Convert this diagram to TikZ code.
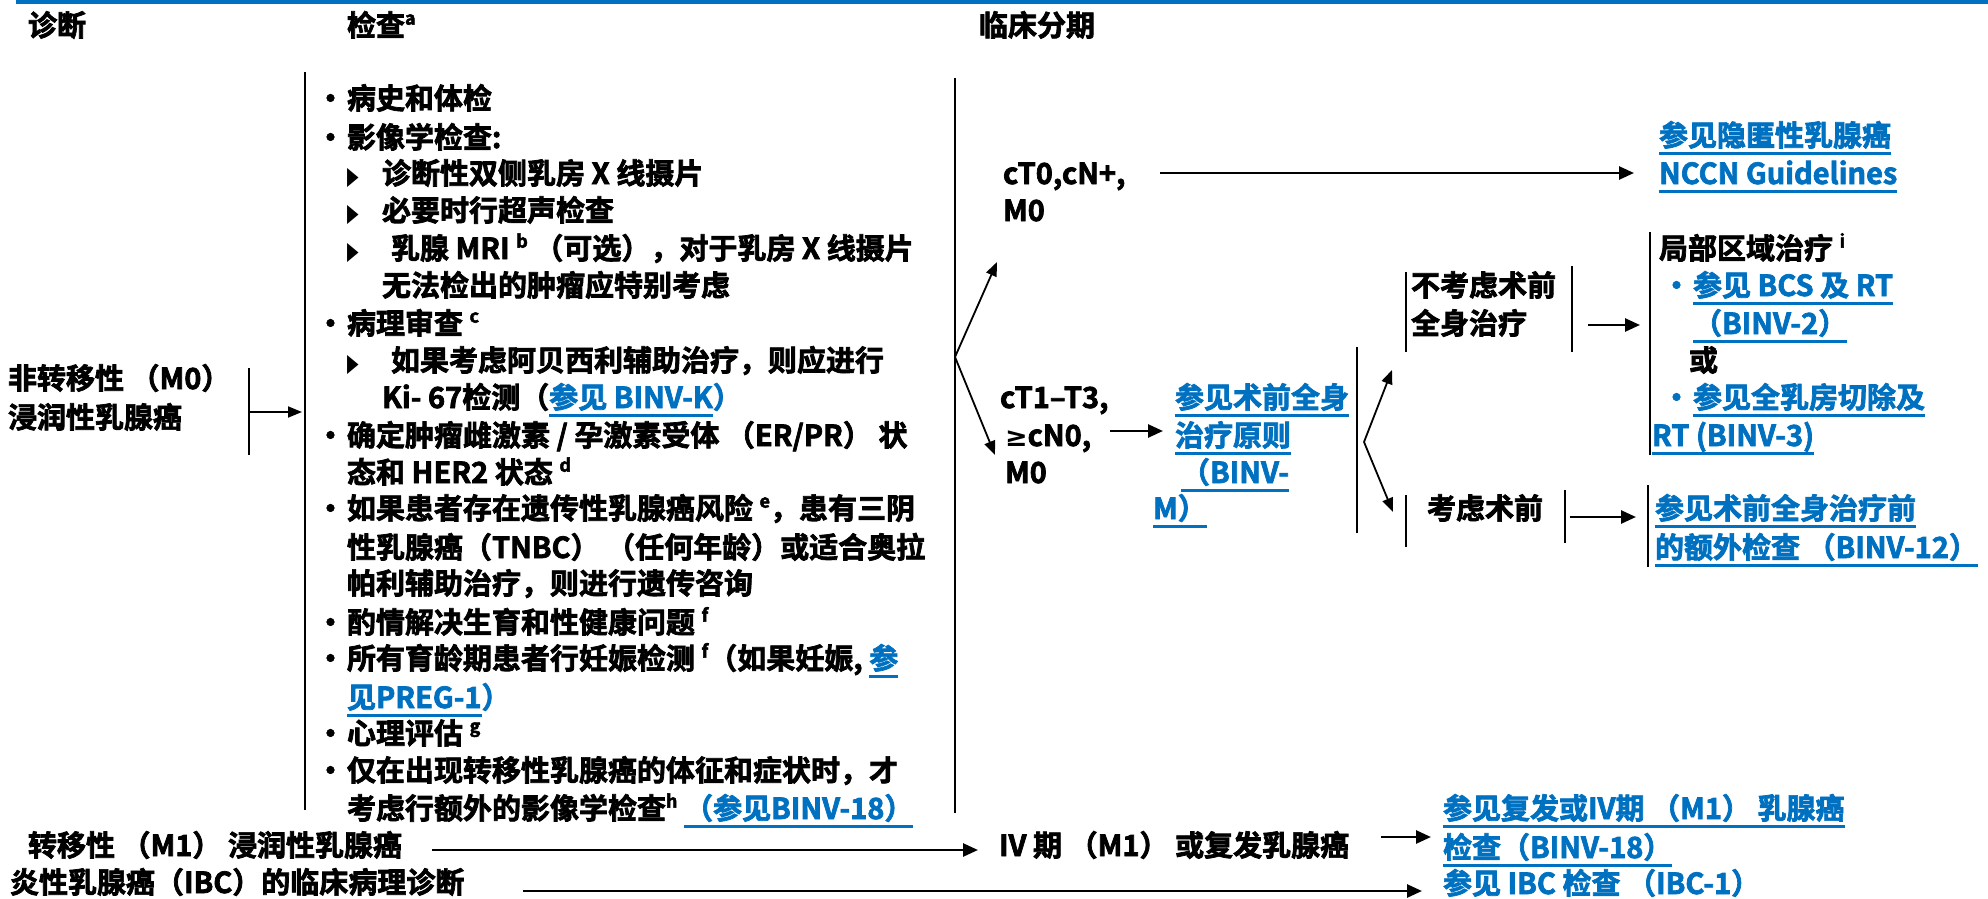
\documentclass[tikz,border=0pt]{standalone}
\usepackage{fontspec}
\usetikzlibrary{arrows.meta}
\newfontfamily\cjkb{Noto Sans CJK SC}[UprightFont={* Bold},FakeBold=2.5]
\newfontfamily\dvs{DejaVu Sans}[UprightFont={* Bold}]
\definecolor{nblue}{HTML}{0070C0}
\newcommand\bodyfont{\cjkb\fontsize{29bp}{34bp}\selectfont}
\newcommand\sups[1]{\raisebox{0.72ex}{\fontsize{18bp}{18bp}\selectfont #1}}
\newcommand\lk[1]{\setbox0\hbox{\color{nblue}#1}\rlap{\color{nblue}\rule[-8.5bp]{\wd0}{2.6bp}}\box0}
\newcommand\tri{\raisebox{0bp}{\scalebox{0.6}[1.0]{\dvs\fontsize{25bp}{25bp}\selectfont ▶}}}
\newcommand\bul{\makebox[31bp][l]{•}}
\newcommand\mygeq{{\dvs\fontsize{27bp}{27bp}\selectfont ≥}}
\begin{document}
\begin{tikzpicture}[x=1bp,y=-1bp,
  tx/.style={anchor=base west, inner sep=0pt, outer sep=0pt, font=\bodyfont},
  arr/.style={line width=2.6bp, -{Triangle[length=15bp,width=13bp]}},
  thinarr/.style={line width=1.8bp, -{Triangle[length=14bp,width=11bp]}},
  bar/.style={line width=2bp}]
\useasboundingbox (0,0) rectangle (1988,899);
% top rule
\draw[nblue, line width=3.5bp] (16,2) -- (1988,2);
% headers
\node[tx] (h1) at (28,36) {诊断};
\node[tx] (h2) at (347,36) {检查\sups{a}};
\node[tx] (h3) at (979,36) {临床分期};
% exam box bars
\draw[bar] (305,72) -- (305,810);
\draw[bar] (955,78) -- (955,813);
% exam list
\node[tx] (e1) at (316,109) {\bul 病史和体检};
\node[tx] (e2) at (316,148) {\bul 影像学检查:};
\node[tx] (e3) at (347,184) {\makebox[35bp][l]{\tri}诊断性双侧乳房 X 线摄片};
\node[tx] (e4) at (347,221) {\makebox[35bp][l]{\tri}必要时行超声检查};
\node[tx] (e5) at (347,259) {\makebox[44bp][l]{\tri}乳腺 MRI \sups{b} （可选），对于乳房 X 线摄片};
\node[tx] (e6) at (382,296) {无法检出的肿瘤应特别考虑};
\node[tx] (e7) at (316,334) {\bul 病理审查 \sups{c}};
\node[tx] (e8) at (347,371) {\makebox[44bp][l]{\tri}如果考虑阿贝西利辅助治疗，则应进行};
\node[tx] (e9) at (382,408) {Ki- 67检测（\lk{参见 BINV-K}）};
\node[tx] (e10) at (316,446) {\bul 确定肿瘤雌激素 / 孕激素受体 （ER/PR） 状};
\node[tx] (e11) at (347,483) {态和 HER2 状态 \sups{d}};
\node[tx] (e12) at (316,519) {\bul 如果患者存在遗传性乳腺癌风险 \sups{e}，患有三阴};
\node[tx] (e13) at (347,558) {性乳腺癌（TNBC） （任何年龄）或适合奥拉};
\node[tx] (e14) at (347,594) {帕利辅助治疗，则进行遗传咨询};
\node[tx] (e15) at (316,633) {\bul 酌情解决生育和性健康问题 \sups{f}};
\node[tx] (e16) at (316,669) {\bul 所有育龄期患者行妊娠检测 \sups{f}（如果妊娠, \lk{参}};
\node[tx] (e17) at (347,708) {\lk{见PREG-1}）};
\node[tx] (e18) at (316,744) {\bul 心理评估 \sups{g}};
\node[tx] (e19) at (316,781) {\bul 仅在出现转移性乳腺癌的体征和症状时，才};
\node[tx] (e20) at (347,819) {考虑行额外的影像学检查\sups{h} \lk{（参见BINV-18）}};
% diagnosis column
\node[tx] (d1) at (8,389) {非转移性 （M0）};
\node[tx] (d2) at (8,428) {浸润性乳腺癌};
\draw[bar] (249,368) -- (249,455);
\coordinate (d0a) at (249,412);
\coordinate (d0b) at (302,412);
\draw[thinarr] (d0a) -- (d0b);
\node[tx] (m1) at (28,856) {转移性 （M1） 浸润性乳腺癌};
\node[tx] (ibc) at (10,893) {炎性乳腺癌（IBC）的临床病理诊断};
% clinical stage
\coordinate (bv) at (955,357);
\coordinate (bu) at (997,262);
\coordinate (bd) at (995,455);
\draw[thinarr] (bv) -- (bu);
\draw[thinarr] (bv) -- (bd);
\node[tx] (c0a) at (1003,184) {cT0,cN+,};
\node[tx] (c0b) at (1003,221) {M0};
\coordinate (a1s) at (1160,173);
\coordinate (a1e) at (1634,173);
\draw[arr] (a1s) -- (a1e);
\node[tx] (occ1) at (1659,146) {\lk{参见隐匿性乳腺癌}};
\node[tx] (occ2) at (1659,184) {\lk{NCCN Guidelines}};
\node[tx] (c1a) at (1000,408) {cT1–T3,};
\node[tx] (c1b) at (1005,446) {\mygeq cN0,};
\node[tx] (c1c) at (1005,483) {M0};
\coordinate (a2s) at (1110,431);
\coordinate (a2e) at (1163,431);
\draw[arr] (a2s) -- (a2e);
\node[tx] (p1) at (1175,408) {\lk{参见术前全身}};
\node[tx] (p2) at (1175,446) {\lk{治疗原则}};
\node[tx] (p3) at (1181,483) {\lk{（BINV-}};
\node[tx] (p4) at (1153,519) {\lk{M）}};
\draw[bar] (1357,347) -- (1357,533);
\coordinate (cv) at (1364,442);
\coordinate (cu) at (1392,370);
\coordinate (cd) at (1393,512);
\draw[thinarr] (cv) -- (cu);
\draw[thinarr] (cv) -- (cd);
\node[tx] (n1) at (1411,296) {不考虑术前};
\node[tx] (n2) at (1411,334) {全身治疗};
\draw[bar] (1406,272) -- (1406,352);
\draw[bar] (1572,266) -- (1572,352);
\coordinate (a3s) at (1588,325);
\coordinate (a3e) at (1640,325);
\draw[arr] (a3s) -- (a3e);
\draw[bar] (1650,232) -- (1650,455);
\node[tx] (l1) at (1659,259) {局部区域治疗 \sups{i}};
\node[tx] (l2) at (1662,296) {\color{nblue}\bul\lk{参见 BCS 及 RT}};
\node[tx] (l3) at (1693,334) {\lk{（BINV-2）}};
\node[tx] (l4) at (1689,371) {或};
\node[tx] (l5) at (1662,408) {\color{nblue}\bul\lk{参见全乳房切除及}};
\node[tx] (l6) at (1652,446) {\lk{RT (BINV-3)}};
\node[tx] (k1) at (1427,519) {考虑术前};
\draw[bar] (1406,495) -- (1406,547);
\draw[bar] (1565,490) -- (1565,543);
\coordinate (a4s) at (1570,517);
\coordinate (a4e) at (1636,517);
\draw[arr] (a4s) -- (a4e);
\draw[bar] (1648,485) -- (1648,567);
\node[tx] (w1) at (1655,519) {\lk{参见术前全身治疗前}};
\node[tx] (w2) at (1655,558) {\lk{的额外检查 （BINV-12）}};
% metastatic
\node[tx] (iv) at (999,856) {IV 期 （M1） 或复发乳腺癌};
\coordinate (a5s) at (432,850);
\coordinate (a5e) at (978,850);
\draw[arr] (a5s) -- (a5e);
\coordinate (a6s) at (1381,837);
\coordinate (a6e) at (1431,837);
\draw[arr] (a6s) -- (a6e);
\node[tx] (r1) at (1443,819) {\lk{参见复发或IV期 （M1） 乳腺癌}};
\node[tx] (r2) at (1443,858) {\lk{检查（BINV-18）}};
\node[tx] (r3) at (1443,894) {\color{nblue}参见 IBC 检查 （IBC-1）};
\coordinate (a7s) at (523,891);
\coordinate (a7e) at (1422,891);
\draw[arr] (a7s) -- (a7e);
\end{tikzpicture}
\end{document}
